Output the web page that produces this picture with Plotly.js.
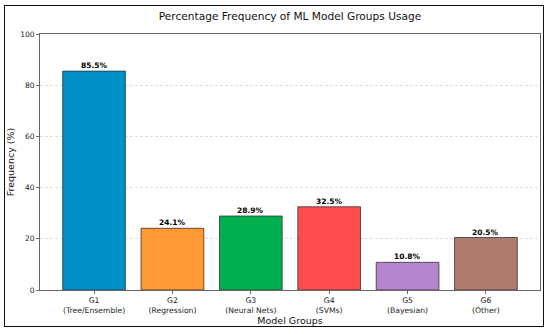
<!DOCTYPE html>
<html>
<head>
<meta charset="utf-8">
<script src="https://cdn.plot.ly/plotly-3.0.1.min.js"></script>
<style>
  html, body { margin: 0; padding: 0; background: #fff; }
  #wrap { position: relative; width: 550px; height: 334px; }
  #chart { width: 550px; height: 334px; }
  #frame { position: absolute; left: 4px; top: 5px; width: 538px; height: 320px; border: 1.5px solid #111; pointer-events: none; }
</style>
</head>
<body>
<div id="wrap">
  <div id="chart"></div>
  <div id="frame"></div>
</div>
<script>
const categories = ["G1<br>(Tree/Ensemble)", "G2<br>(Regression)", "G3<br>(Neural Nets)", "G4<br>(SVMs)", "G5<br>(Bayesian)", "G6<br>(Other)"];
const frequency = [85.5, 24.1, 28.9, 32.5, 10.8, 20.5];
const barColors = ["#0090C8", "#FF9933", "#00B04F", "#FF4C4C", "#B784D0", "#B07A6E"];
const labels = frequency.map(v => v.toFixed(1) + "%");

const font = "DejaVu Sans, Verdana, sans-serif";
const xpos = categories.map((c, i) => i);

const trace = {
  type: "bar",
  x: xpos,
  y: frequency,
  width: 0.8,
  marker: { color: barColors, line: { color: "#333", width: 0.8 } },
  hoverinfo: "skip"
};

const annotations = frequency.map((v, i) => ({
  x: xpos[i], y: v, xref: "x", yref: "y",
  text: "<b>" + labels[i] + "</b>",
  showarrow: false, yanchor: "bottom", yshift: -1,
  font: { family: font, size: 7.5, color: "#000" }
}));

const layout = {
  width: 550, height: 334,
  margin: { l: 40, r: 10, t: 34, b: 44 },
  paper_bgcolor: "#fff", plot_bgcolor: "#fff",
  font: { family: font, size: 7.5, color: "#222" },
  showlegend: false,
  annotations: annotations,
  title: { text: "Percentage Frequency of ML Model Groups Usage", font: { family: font, size: 10.6, color: "#111" }, x: 0.5, xref: "paper", xanchor: "center", y: 0.952, yref: "container", yanchor: "middle" },
  xaxis: {
    range: [-0.69, 5.69],
    tickmode: "array", tickvals: xpos, ticktext: categories,
    ticks: "outside", ticklen: 3, tickcolor: "#444", tickwidth: 0.8,
    showline: true, linecolor: "#666", linewidth: 1, mirror: true,
    showgrid: false, zeroline: false,
    tickfont: { family: font, size: 7.7, color: "#222" },
    title: { text: "Model Groups", font: { family: font, size: 9.5, color: "#111" }, standoff: 3 }
  },
  yaxis: {
    range: [0, 100],
    tickvals: [0, 20, 40, 60, 80, 100],
    ticks: "outside", ticklen: 3, tickcolor: "#444", tickwidth: 0.8,
    showline: true, linecolor: "#666", linewidth: 1, mirror: true,
    showgrid: true, gridcolor: "#d0d0d0", gridwidth: 0.7, griddash: "3px,2px",
    zeroline: false,
    tickfont: { family: font, size: 7.5, color: "#222" },
    title: { text: "Frequency (%)", font: { family: font, size: 9.5, color: "#111" }, standoff: 3 }
  },
  bargap: 0.2
};

Plotly.newPlot("chart", [trace], layout, { displayModeBar: false, staticPlot: true });
</script>
</body>
</html>
